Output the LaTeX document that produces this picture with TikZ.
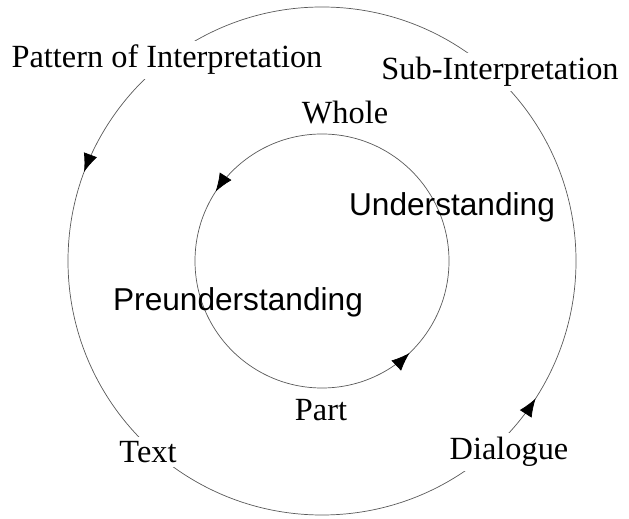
\documentclass[tikz,border=0pt]{standalone}
\usepackage{fontspec}
\setmainfont{Liberation Serif}
\setsansfont{Liberation Sans}
\usetikzlibrary{positioning, arrows.meta, decorations.markings}

\begin{document}
\begin{tikzpicture}[x=0.025cm, y=0.025cm,
    ring/.style={draw=black!65, line width=0.5pt},
    tip/.style={postaction={decorate, decoration={markings,
        mark=at position #1 with {\arrow{Latex[black,length=13pt,width=10pt]}}}}},
    word/.style={fill=white, inner sep=3pt, font=\fontsize{23}{27}\selectfont},
    idea/.style={inner sep=0pt, font=\sffamily\fontsize{22.5}{27}\selectfont}]
    \useasboundingbox (0,0) rectangle (629,518);
    \coordinate (C) at (322,257);

    \draw[ring, tip=0.443, tip=0.909] (C) circle[radius=254];
    \draw[ring, tip=0.408, tip=0.871] (C) circle[radius=127];

    \node[word] at (167,458) (pattern)  {Pattern of Interpretation};
    \node[word] at (500,446) (sub)      {Sub-Interpretation};
    \node[word] at (148,66)  (text)     {Text};
    \node[word] at (509,66)  (dialogue) {Dialogue};
    \node[word] at (345,405) (whole)    {Whole};
    \node[word] at (321,108) (part)     {Part};

    \node[idea] at (452,311) (under)    {Understanding};
    \node[idea] at (238,216) (preunder) {Preunderstanding};
\end{tikzpicture}
\end{document}
